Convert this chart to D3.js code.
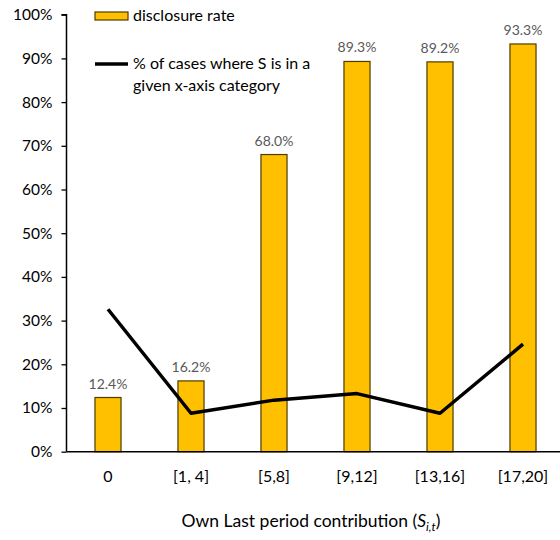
<!DOCTYPE html>
<html>
<head>
<meta charset="utf-8">
<script src="https://cdn.jsdelivr.net/npm/d3@7"></script>
<style>
  body { margin: 0; background: #fff; }
  svg { font-family: Calibri, Carlito, Lato, "Open Sans", sans-serif; }
</style>
</head>
<body>
<svg id="chart"></svg>
<script>
const categories = ["0", "[1, 4]", "[5,8]", "[9,12]", "[13,16]", "[17,20]"];
const disclosureRate = [12.4, 16.2, 68.0, 89.3, 89.2, 93.3];
const caseShare = [32.6, 8.8, 11.8, 13.3, 8.8, 24.6];
const yTicks = [0, 10, 20, 30, 40, 50, 60, 70, 80, 90, 100];

const width = 560, height = 540;
const svg = d3.select("#chart").attr("width", width).attr("height", height);

const x = d3.scaleBand().domain(categories).range([66.5, 564.5]).paddingInner(0.686).paddingOuter(0.343);
const y = d3.scaleLinear().domain([0, 100]).range([451.7, 14.7]);

// y axis
const yAxis = svg.append("g")
    .attr("transform", "translate(66.5,0)")
    .call(d3.axisLeft(y).tickValues(yTicks).tickSize(5).tickFormat(d => d + "%"));
yAxis.select(".domain").attr("stroke", "#000").attr("stroke-width", 1.5).attr("d", "M-5," + y(100) + "H0V" + y(0));
yAxis.selectAll(".tick line").attr("stroke", "#000").attr("stroke-width", 1.3);
yAxis.selectAll(".tick text").attr("font-size", 15.5).attr("fill", "#000").attr("x", -14).attr("font-family", "Lato, sans-serif");

// bars
svg.selectAll(".bar")
    .data(categories)
    .enter()
    .append("rect")
    .attr("class", "bar")
    .attr("x", d => x(d))
    .attr("width", x.bandwidth())
    .attr("y", (d, i) => y(disclosureRate[i]))
    .attr("height", (d, i) => y(0) - y(disclosureRate[i]))
    .attr("fill", "#FFC000")
    .attr("stroke", "#4d3b00")
    .attr("stroke-width", 1.2);

// bar labels
svg.selectAll(".bar-label")
    .data(categories)
    .enter()
    .append("text")
    .attr("class", "bar-label")
    .attr("x", d => x(d) + x.bandwidth() / 2)
    .attr("y", (d, i) => y(disclosureRate[i]) - 9)
    .attr("text-anchor", "middle")
    .attr("font-size", 14)
    .attr("fill", "#595959")
    .attr("font-family", "Lato, sans-serif")
    .text((d, i) => disclosureRate[i].toFixed(1) + "%");

// x axis line
svg.append("line")
    .attr("x1", 66.5).attr("x2", width)
    .attr("y1", y(0)).attr("y2", y(0))
    .attr("stroke", "#000").attr("stroke-width", 1.5);

// x tick labels
svg.selectAll(".x-label")
    .data(categories)
    .enter()
    .append("text")
    .attr("class", "x-label")
    .attr("x", d => x(d) + x.bandwidth() / 2)
    .attr("y", 482)
    .attr("text-anchor", "middle")
    .attr("font-size", 16)
    .attr("font-family", "Lato, sans-serif")
    .text(d => d);

// line series
const line = d3.line()
    .x((d, i) => x(categories[i]) + x.bandwidth() / 2)
    .y(d => y(d));
svg.append("path")
    .datum(caseShare)
    .attr("d", line)
    .attr("fill", "none")
    .attr("stroke", "#000")
    .attr("stroke-width", 3.5)
    .attr("stroke-linejoin", "round");

// axis title
const title = svg.append("text")
    .attr("x", 311)
    .attr("y", 527)
    .attr("text-anchor", "middle")
    .attr("font-size", 17.5)
    .attr("font-family", "Lato, sans-serif");
title.append("tspan").text("Own Last period contribution (");
title.append("tspan").attr("font-style", "italic").text("S");
title.append("tspan").attr("font-style", "italic").attr("font-size", 12).attr("dy", 4).text("i,t");
title.append("tspan").attr("dy", -4).text(")");

// legend
const legend = svg.append("g").attr("font-family", "Lato, sans-serif").attr("font-size", 16);
legend.append("rect")
    .attr("x", 95).attr("y", 12).attr("width", 33).attr("height", 8)
    .attr("fill", "#FFC000").attr("stroke", "#4d3b00").attr("stroke-width", 1.2);
legend.append("text").attr("x", 133).attr("y", 21).text("disclosure rate");
legend.append("line")
    .attr("x1", 95).attr("x2", 128).attr("y1", 64).attr("y2", 64)
    .attr("stroke", "#000").attr("stroke-width", 3.5);
legend.append("text").attr("x", 133).attr("y", 69).text("% of cases where S is in a");
legend.append("text").attr("x", 133).attr("y", 91).text("given x-axis category");
</script>
</body>
</html>
